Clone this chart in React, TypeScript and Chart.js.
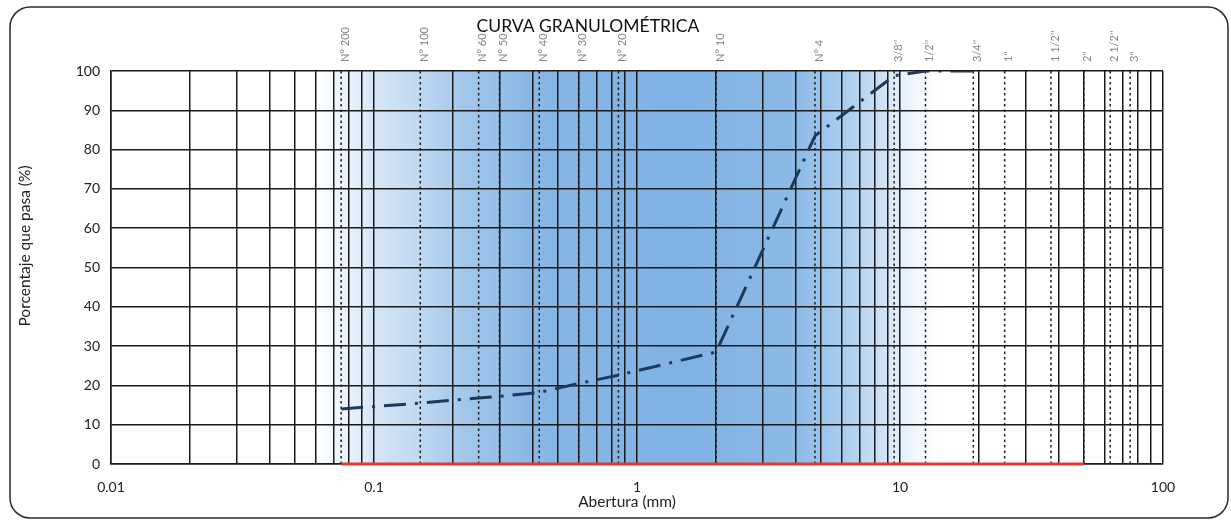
import React, { useEffect, useRef } from "react";
import { Chart, registerables } from "chart.js";

Chart.register(...registerables);

// ---- data ----
const chartTitle = "CURVA GRANULOMÉTRICA";
const xAxisTitle = "Abertura (mm)";
const yAxisTitle = "Porcentaje que pasa (%)";

const sieveLabels = [
  "N° 200", "N° 100", "N° 60", "N° 50", "N° 40", "N° 30", "N° 20", "N° 10", "N° 4",
  "3/8''", "1/2''", "3/4''", "1''", "1 1/2''", "2''", "2 1/2''", "3''",
];
const sieveSizes = [0.075, 0.15, 0.25, 0.3, 0.425, 0.6, 0.85, 2.0, 4.75, 9.5, 12.5, 19, 25, 37.5, 50, 63, 75];

const curveSizes = [0.075, 0.15, 0.25, 0.3, 0.425, 0.6, 0.85, 2.0, 4.75, 9.5, 12.5, 19];
const curvePassing = [14, 15.5, 16.8, 17.2, 18.2, 20.5, 22.6, 28.5, 83.5, 98.8, 100, 100];

const baseLineSizes = [0.075, 50];
const baseLineValues = [0, 0];

const xMajorTicks = [0.01, 0.1, 1, 10, 100];
const yTicks = [0, 10, 20, 30, 40, 50, 60, 70, 80, 90, 100];

const FONT = "Lato, 'Open Sans', sans-serif";

export default function App() {
  const ref = useRef<HTMLCanvasElement | null>(null);

  useEffect(() => {
    document.body.style.margin = "0";
    const canvas = ref.current;
    if (!canvas) return;

    const minorTicks: number[] = [];
    for (let e = -2; e <= 1; e++) {
      for (let m = 1; m <= 9; m++) {
        minorTicks.push(Number((m * Math.pow(10, e)).toPrecision(6)));
      }
    }
    minorTicks.push(100);

    const decor = {
      id: "decor",
      beforeDraw(chart: any) {
        const { ctx, chartArea } = chart;
        const xs = chart.scales.x;
        const p = (v: number) => xs.getPixelForValue(v);
        const x0 = p(0.06);
        const x1 = p(14);
        const g = ctx.createLinearGradient(x0, 0, x1, 0);
        const stops: [number, string][] = [
          [0.06, "rgba(255,255,255,1)"],
          [0.075, "#eef4fb"],
          [0.1, "#d6e6f6"],
          [0.15, "#bfd8f1"],
          [0.22, "#a3c7ec"],
          [0.4, "#88b7e5"],
          [1.5, "#80b2e4"],
          [4, "#8bbae6"],
          [6, "#a8ccee"],
          [8, "#c6ddf4"],
          [10.5, "#e9f2fb"],
          [14, "#ffffff"],
        ];
        for (const [v, c] of stops) {
          g.addColorStop((p(v) - x0) / (x1 - x0), c);
        }
        ctx.save();
        ctx.fillStyle = g;
        ctx.fillRect(chartArea.left, chartArea.top, chartArea.right - chartArea.left, chartArea.bottom - chartArea.top);
        ctx.restore();
      },
      beforeDatasetsDraw(chart: any) {
        const { ctx, chartArea } = chart;
        const xs = chart.scales.x;
        ctx.save();
        ctx.strokeStyle = "#1e1e1e";
        ctx.lineWidth = 1.5;
        ctx.setLineDash([2.5, 3]);
        sieveSizes.forEach((s) => {
          const x = xs.getPixelForValue(s);
          ctx.beginPath();
          ctx.moveTo(x, chartArea.top);
          ctx.lineTo(x, chartArea.bottom);
          ctx.stroke();
        });
        ctx.restore();
      },
      afterDraw(chart: any) {
        const { ctx, chartArea } = chart;
        const xs = chart.scales.x;
        ctx.save();
        // sieve labels
        ctx.fillStyle = "#858585";
        ctx.font = `11px ${FONT}`;
        ctx.textAlign = "left";
        ctx.textBaseline = "middle";
        sieveSizes.forEach((s, i) => {
          const x = xs.getPixelForValue(s) + 4;
          ctx.save();
          ctx.translate(x, chartArea.top - 9);
          ctx.rotate(-Math.PI / 2);
          ctx.fillText(sieveLabels[i], 0, 0);
          ctx.restore();
        });
        // title
        ctx.fillStyle = "#111";
        ctx.font = `17.5px ${FONT}`;
        ctx.textAlign = "center";
        ctx.textBaseline = "middle";
        ctx.fillText(chartTitle, 588, 26);
        // axis titles
        ctx.font = `15.5px ${FONT}`;
        ctx.fillStyle = "#222";
        ctx.fillText(xAxisTitle, 627, 502);
        ctx.save();
        ctx.translate(25, 246);
        ctx.rotate(-Math.PI / 2);
        ctx.fillText(yAxisTitle, 0, 0);
        ctx.restore();
        // outer frame
        ctx.strokeStyle = "#2a2a2a";
        ctx.lineWidth = 1.5;
        ctx.beginPath();
        (ctx as any).roundRect(10, 7, 1218, 511, 20);
        ctx.stroke();
        ctx.restore();
      },
    };

    const chart = new Chart(canvas, {
      type: "line",
      data: {
        datasets: [
          {
            data: curveSizes.map((x, i) => ({ x, y: curvePassing[i] })),
            borderColor: "#1d3a5c",
            borderWidth: 3,
            borderDash: [22, 9, 3, 9],
            pointRadius: 0,
            fill: false,
            tension: 0,
          },
          {
            data: baseLineSizes.map((x, i) => ({ x, y: baseLineValues[i] })),
            borderColor: "#e8392f",
            borderWidth: 3,
            pointRadius: 0,
            fill: false,
            clip: false as any,
          },
        ],
      },
      plugins: [decor],
      options: {
        responsive: false,
        animation: false,
        layout: { padding: { top: 71, right: 68, bottom: 0, left: 0 } },
        plugins: {
          legend: { display: false },
          tooltip: { enabled: false },
          title: { display: false },
        },
        scales: {
          x: {
            type: "logarithmic",
            min: 0.01,
            max: 100,
            afterBuildTicks: (scale: any) => {
              scale.ticks = minorTicks.map((v) => ({ value: v }));
            },
            afterFit: (scale: any) => {
              scale.height = 56;
            },
            grid: { color: "#1a1a1a", lineWidth: 1.5, drawTicks: false },
            border: { display: true, color: "#1a1a1a", width: 1.5 },
            ticks: {
              autoSkip: false,
              maxRotation: 0,
              padding: 15,
              color: "#222",
              font: { family: FONT, size: 14 },
              callback: (v: any) => (xMajorTicks.includes(Number(v)) ? String(v) : ""),
            },
          },
          y: {
            min: 0,
            max: 100,
            afterBuildTicks: (scale: any) => {
              scale.ticks = yTicks.map((v) => ({ value: v }));
            },
            afterFit: (scale: any) => {
              scale.width = 111;
            },
            grid: { color: "#1a1a1a", lineWidth: 1.5, drawTicks: false },
            border: { display: true, color: "#1a1a1a", width: 1.5 },
            ticks: {
              padding: 11,
              color: "#222",
              font: { family: FONT, size: 14 },
            },
          },
        },
      },
    });

    return () => chart.destroy();
  }, []);

  return (
    <div style={{ width: 1231, height: 520, background: "#fff" }}>
      <canvas ref={ref} width={1231} height={520} style={{ display: "block" }} />
    </div>
  );
}
